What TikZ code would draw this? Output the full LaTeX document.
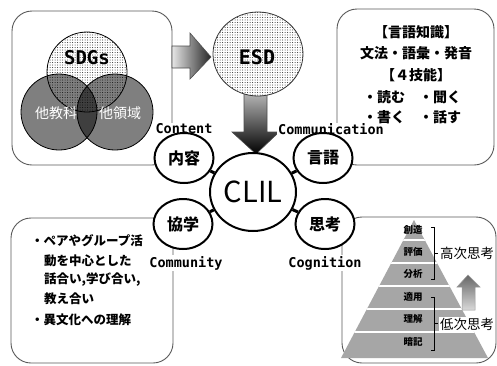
\documentclass[tikz,border=0pt]{standalone}
\usepackage{fontspec}
\setmainfont{Noto Sans CJK JP}
\newfontfamily\monof{DejaVu Sans Mono}
\usetikzlibrary{patterns,shapes.geometric}
\pgfdeclarepatternformonly{finedots}{\pgfpoint{-1pt}{-1pt}}{\pgfpoint{1.25pt}{1.25pt}}{\pgfpoint{2.5pt}{2.5pt}}{\pgfpathcircle{\pgfpointorigin}{0.5pt}\pgfusepath{fill}}
\begin{document}
\begin{tikzpicture}[x=1pt,y=-1pt,
  box/.style={draw=black!65, line width=0.9pt, rounded corners=20pt, fill=white},
  smallc/.style={ellipse, draw=black, line width=2pt, fill=white, minimum width=59pt, minimum height=50pt, inner sep=0pt, font=\bfseries\fontsize{16}{16}\selectfont},
  lab/.style={font=\monof\bfseries\fontsize{13.5}{14}\selectfont, fill=white, inner sep=0.8pt},
  venn/.style={fill=black, fill opacity=0.5, draw=black, draw opacity=1, line width=0.8pt},
  dotted fill/.style={pattern=finedots, pattern color=black!85},
  boxtxt/.style={font=\bfseries\fontsize{14}{14}\selectfont, inner sep=0pt},
  bltxt/.style={font=\bfseries\fontsize{12.5}{12.5}\selectfont, inner sep=0pt, anchor=west},
  pyr/.style={font=\bfseries\fontsize{9.5}{9.5}\selectfont, inner sep=0pt},
  think/.style={font=\fontsize{13.5}{13.5}\selectfont, fill=white, inner sep=1pt, anchor=west},
  link/.style={line width=3pt, black},
  brk/.style={line width=0.8pt, black}
]
\useasboundingbox (0,0) rectangle (497,365);
\clip (0,0) rectangle (497,365);

% boxes
\draw[box] (12,11) rectangle (172,165);
\draw[box] (337,9) rectangle (494,165);
\draw[box] (11,218) rectangle (173,363);
\draw[box] (342,217) rectangle (496,363);

% Venn diagram
\fill[white] (87,72) circle[radius=40pt];
\fill[dotted fill] (87,72) circle[radius=40pt];
\draw[black, line width=0.8pt] (87,72) circle[radius=40pt];
\path[venn] (59,112) circle[radius=38pt];
\path[venn] (115,112) circle[radius=38pt];
\node[font=\monof\bfseries\fontsize{19}{19}\selectfont, inner sep=0pt] (sdgs) at (87,58) {SDGs};
\node[font=\fontsize{14}{14}\selectfont, text=white, inner sep=0pt] (tak) at (56,113) {他教科};
\node[font=\fontsize{14}{14}\selectfont, text=white, inner sep=0pt] (tar) at (120,113) {他領域};

% right arrow
\shade[left color=black!10, right color=black!85, draw=black!70, line width=0.6pt]
  (172,46) -- (190,46) -- (190,33) -- (211,57) -- (190,79) -- (190,68) -- (172,68) -- cycle;

% down arrow
\shade[top color=black!25, bottom color=black, draw=black!70, line width=0.6pt]
  (244,90) -- (267,90) -- (267,132) -- (279,132) -- (256,154) -- (232,132) -- (244,132) -- cycle;

% ESD circle
\fill[white] (258,54) ellipse[x radius=45pt, y radius=42pt];
\fill[dotted fill] (258,54) ellipse[x radius=45pt, y radius=42pt];
\draw[black!80, line width=0.8pt] (258,54) ellipse[x radius=45pt, y radius=42pt];
\node[font=\monof\bfseries\fontsize{20}{20}\selectfont, inner sep=0pt] (esd) at (257,57) {ESD};

% labels
\node[lab] (lcontent) at (184,129) {Content};
\node[lab] (lcomm) at (331,129) {Communication};
\node[lab] (lcommu) at (186,263) {Community};
\node[lab] (lcog) at (325,263) {Cognition};

% CLIL and small circles
\node[ellipse, draw=black, line width=2pt, fill=white, minimum width=86pt, minimum height=78pt, inner sep=0pt, font=\fontsize{29}{29}\selectfont] (clil) at (253,192) {CLIL};
\node[smallc] (naiyo) at (184,158) {内容};
\node[smallc] (gengo) at (323,158) {言語};
\node[smallc] (kyogaku) at (183,224) {協学};
\node[smallc] (shiko) at (325,224) {思考};
\draw[link] (naiyo) -- (clil);
\draw[link] (gengo) -- (clil);
\draw[link] (kyogaku) -- (clil);
\draw[link] (shiko) -- (clil);

% top-right text
\node[boxtxt] (t1) at (416,32) {【言語知識】};
\node[boxtxt] (t2) at (416,53) {文法・語彙・発音};
\node[boxtxt] (t3) at (416,75) {【４技能】};
\node[boxtxt, anchor=west] (t4) at (363,97) {・読む\hspace{14pt}・聞く};
\node[boxtxt, anchor=west] (t5) at (363,117) {・書く\hspace{14pt}・話す};

% bottom-left text
\node[bltxt] (b1) at (31,241) {・ペアやグループ活};
\node[bltxt] (b2) at (44,261) {動を中心とした};
\node[bltxt] (b3) at (44,280) {話合い,学び合い,};
\node[bltxt] (b4) at (44,299) {教え合い};
\node[bltxt] (b5) at (31,320) {・異文化への理解};

% pyramid
\begin{scope}
  \clip (414,220) -- (488,358) -- (341,358) -- cycle;
  \fill[black!35] (330,210) rectangle (500,365);
  \foreach \yy in {240,263,286,309,332}
    \draw[white, line width=1.5pt] (330,\yy) -- (500,\yy);
\end{scope}
\node[pyr] (p1) at (413,230) {創造};
\node[pyr] (p2) at (413,252) {評価};
\node[pyr] (p3) at (413,274) {分析};
\node[pyr] (p4) at (413,297) {適用};
\node[pyr] (p5) at (413,319) {理解};
\node[pyr] (p6) at (413,342) {暗記};

% brackets
\draw[brk] (431,227) -- (434,227) -- (434,279) -- (431,279);
\draw[brk] (434,253) -- (438,253);
\draw[brk] (431,297) -- (434,297) -- (434,350) -- (431,350);
\draw[brk] (434,323) -- (438,323);
\node[think] (hi) at (439,253) {高次思考};
\node[think] (lo) at (439,324) {低次思考};

% up arrow
\shade[top color=black!60, bottom color=black!15, draw=black!40, line width=0.5pt]
  (462,310) -- (462,287) -- (457,287) -- (468,275) -- (480,287) -- (475,287) -- (475,310) -- cycle;
\end{tikzpicture}
\end{document}
